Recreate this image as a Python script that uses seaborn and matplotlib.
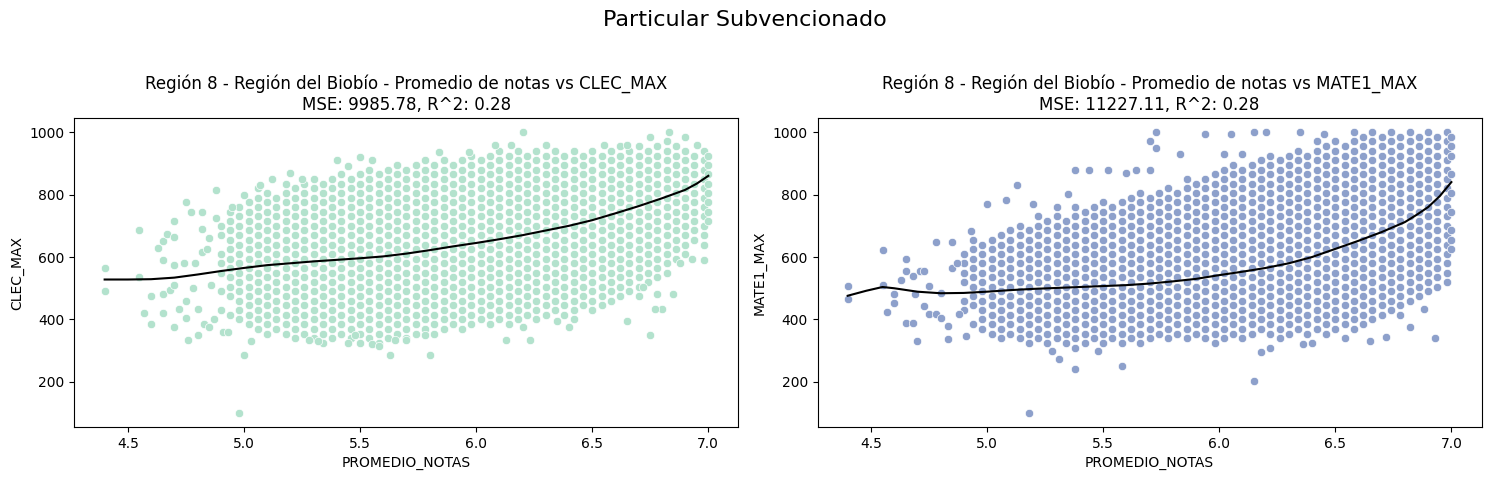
import numpy as np
import pandas as pd
import seaborn as sns
import matplotlib.pyplot as plt

# ---------------- data: CLEC_MAX panel ----------------
clec_cols_x = [4.90, 4.94, 4.98, 5.02, 5.06, 5.10, 5.14, 5.18, 5.22, 5.26, 5.30, 5.34, 5.38, 5.42,
               5.46, 5.50, 5.54, 5.58, 5.62, 5.66, 5.70, 5.74, 5.78, 5.82, 5.86, 5.90, 5.94, 5.98,
               6.02, 6.06, 6.10, 6.14, 6.18, 6.22, 6.26, 6.30, 6.34, 6.38, 6.42, 6.46, 6.50, 6.54,
               6.58, 6.62, 6.66, 6.70, 6.74, 6.78, 6.82, 6.86, 6.90, 6.94, 6.98, 7.00]
clec_cols_y = [
    [430, 490, 550, 580, 610, 670, 700],
    [415, 475, 505, 535, 565, 595, 625, 655, 685, 715, 745],
    [400, 430, 460, 490, 520, 550, 580, 610, 640, 670, 700, 730, 760],
    [385, 415, 445, 475, 505, 535, 565, 595, 625, 655, 685, 715, 745, 775],
    [370, 400, 430, 460, 490, 520, 550, 580, 610, 640, 670, 700, 730, 760, 790, 820],
    [355, 385, 415, 445, 475, 505, 535, 565, 595, 625, 655, 685, 715, 745, 775, 805],
    [370, 400, 430, 460, 490, 520, 550, 580, 610, 640, 670, 700, 730, 760, 790],
    [355, 385, 415, 445, 475, 505, 535, 565, 595, 625, 655, 685, 715, 745, 775, 805, 835],
    [340, 370, 400, 430, 460, 490, 520, 550, 580, 610, 640, 670, 700, 730, 760, 790, 820],
    [355, 385, 415, 445, 475, 505, 535, 565, 595, 625, 655, 685, 715, 745, 775, 805, 835],
    [340, 370, 400, 430, 460, 490, 520, 550, 580, 610, 640, 670, 700, 730, 760, 790, 820, 850],
    [325, 355, 385, 415, 445, 475, 505, 535, 565, 595, 625, 655, 685, 715, 745, 775, 805, 835],
    [340, 370, 400, 430, 460, 490, 520, 550, 580, 610, 640, 670, 700, 730, 760, 790, 820, 850],
    [355, 385, 415, 445, 475, 505, 535, 565, 595, 625, 655, 685, 715, 745, 775, 805, 835, 865],
    [340, 370, 400, 430, 460, 490, 520, 550, 580, 610, 640, 670, 700, 730, 760, 790, 820, 850],
    [325, 355, 385, 415, 445, 475, 505, 535, 565, 595, 625, 655, 685, 715, 745, 775, 805, 835, 865],
    [340, 370, 400, 430, 460, 490, 520, 550, 580, 610, 640, 670, 700, 730, 760, 790, 820, 850, 880],
    [325, 355, 385, 415, 445, 475, 505, 535, 565, 595, 625, 655, 685, 715, 745, 775, 805, 835, 865],
    [340, 370, 400, 430, 460, 490, 520, 550, 580, 610, 640, 670, 700, 730, 760, 790, 820, 850, 880],
    [355, 385, 415, 445, 475, 505, 535, 565, 595, 625, 655, 685, 715, 745, 775, 805, 835, 865, 895],
    [340, 370, 400, 430, 460, 490, 520, 550, 580, 610, 640, 670, 700, 730, 760, 790, 820, 850, 880],
    [355, 385, 415, 445, 475, 505, 535, 565, 595, 625, 655, 685, 715, 745, 775, 805, 835, 865, 895],
    [370, 400, 430, 460, 490, 520, 550, 580, 610, 640, 670, 700, 730, 760, 790, 820, 850, 880, 910],
    [355, 385, 415, 445, 475, 505, 535, 565, 595, 625, 655, 685, 715, 745, 775, 805, 835, 865, 895],
    [370, 400, 430, 460, 490, 520, 550, 580, 610, 640, 670, 700, 730, 760, 790, 820, 850, 880, 910],
    [385, 415, 445, 475, 505, 535, 565, 595, 625, 655, 685, 715, 745, 775, 805, 835, 865, 895],
    [370, 400, 430, 460, 490, 520, 550, 580, 610, 640, 670, 700, 730, 760, 790, 820, 850, 880, 910],
    [385, 415, 445, 475, 505, 535, 565, 595, 625, 655, 685, 715, 745, 775, 805, 835, 865, 895, 925],
    [400, 430, 460, 490, 520, 550, 580, 610, 640, 670, 700, 730, 760, 790, 820, 850, 880, 910],
    [385, 415, 445, 475, 505, 535, 565, 595, 625, 655, 685, 715, 745, 775, 805, 835, 865, 895, 925],
    [400, 430, 460, 490, 520, 550, 580, 610, 640, 670, 700, 730, 760, 790, 820, 850, 880, 910, 940],
    [385, 415, 445, 475, 505, 535, 565, 595, 625, 655, 685, 715, 745, 775, 805, 835, 865, 895, 925],
    [400, 430, 460, 490, 520, 550, 580, 610, 640, 670, 700, 730, 760, 790, 820, 850, 880, 910, 940],
    [415, 445, 475, 505, 535, 565, 595, 625, 655, 685, 715, 745, 775, 805, 835, 865, 895, 925],
    [400, 430, 460, 490, 520, 550, 580, 610, 640, 670, 700, 730, 760, 790, 820, 850, 880, 910, 940],
    [415, 445, 475, 505, 535, 565, 595, 625, 655, 685, 715, 745, 775, 805, 835, 865, 895, 925],
    [430, 460, 490, 520, 550, 580, 610, 640, 670, 700, 730, 760, 790, 820, 850, 880, 910, 940],
    [415, 445, 475, 505, 535, 565, 595, 625, 655, 685, 715, 745, 775, 805, 835, 865, 895, 925],
    [400, 430, 460, 490, 520, 550, 580, 610, 640, 670, 700, 730, 760, 790, 820, 850, 880, 910, 940],
    [445, 475, 505, 535, 565, 595, 625, 655, 685, 715, 745, 775, 805, 835, 865, 895, 925],
    [430, 460, 490, 520, 550, 580, 610, 640, 670, 700, 730, 760, 790, 820, 850, 880, 910, 940],
    [445, 475, 505, 535, 565, 595, 625, 655, 685, 715, 745, 775, 805, 835, 865, 895, 925],
    [460, 490, 520, 550, 580, 610, 640, 670, 700, 730, 760, 790, 820, 850, 880, 910, 940],
    [475, 505, 535, 565, 595, 625, 655, 685, 715, 745, 775, 805, 835, 865, 895, 925, 955],
    [490, 520, 550, 580, 610, 640, 670, 700, 730, 760, 790, 820, 850, 880, 910, 940],
    [475, 505, 535, 565, 595, 625, 655, 685, 715, 745, 775, 805, 835, 865, 895, 925, 955],
    [520, 550, 580, 610, 640, 670, 700, 730, 760, 790, 820, 850, 880, 910, 940],
    [535, 565, 595, 625, 655, 685, 715, 745, 775, 805, 835, 865, 895, 925, 955],
    [550, 580, 610, 640, 670, 700, 730, 760, 790, 820, 850, 880, 910, 940, 970],
    [595, 625, 655, 685, 715, 745, 775, 805, 835, 865, 895, 925, 955],
    [610, 640, 670, 700, 730, 760, 790, 820, 850, 880, 910, 940],
    [655, 685, 715, 745, 775, 805, 835, 865, 895, 925],
    [640, 670, 700, 730, 760, 790, 820, 850, 880, 910, 940],
    [715, 745, 775, 805, 835, 865, 895, 925],
]
clec_out_x = [4.40, 4.40, 4.55, 4.55, 4.57, 4.60, 4.60, 4.63, 4.65, 4.65, 4.65, 4.65, 4.67, 4.68,
              4.70, 4.70, 4.70, 4.70, 4.70, 4.72, 4.74, 4.75, 4.75, 4.75, 4.76, 4.77, 4.78, 4.79,
              4.80, 4.80, 4.82, 4.82, 4.82, 4.83, 4.84, 4.85, 4.85, 4.86, 4.87, 4.88, 4.88, 4.91,
              4.93, 4.95, 4.98, 5.00, 5.00, 5.03, 5.07, 5.12, 5.20, 5.25, 5.40, 5.45, 5.50, 5.55,
              5.28, 5.32, 5.45, 5.48, 5.55, 5.58, 5.63, 5.65, 5.70, 5.78, 5.80, 5.84, 5.97, 6.08,
              6.15, 6.20, 6.30, 6.55, 6.65, 6.75, 6.83, 6.90, 6.95, 6.13, 6.23, 6.20, 6.35, 6.40,
              6.65, 6.75, 6.72, 6.78, 6.80, 6.85, 6.88, 6.93, 6.98, 6.77]
clec_out_y = [565, 490, 685, 535, 420, 475, 385, 630, 650, 590, 480, 420, 675, 495,
              715, 665, 575, 510, 375, 435, 580, 775, 460, 405, 335, 745, 500, 580,
              350, 435, 745, 690, 615, 385, 625, 375, 660, 510, 400, 815, 725, 360,
              360, 760, 100, 285, 800, 330, 830, 850, 870, 850, 910, 890, 920, 910,
              335, 330, 325, 350, 320, 315, 285, 335, 335, 350, 285, 935, 935, 960,
              960, 1000, 960, 960, 960, 985, 1000, 985, 960, 335, 335, 375, 395, 375,
              395, 350, 505, 480, 435, 480, 580, 595, 590, 435]
clec_fit_x = [4.40, 4.50, 4.60, 4.70, 4.80, 4.90, 5.00, 5.10, 5.20, 5.30, 5.40, 5.50, 5.60, 5.70,
              5.80, 5.90, 6.00, 6.10, 6.20, 6.30, 6.40, 6.50, 6.60, 6.70, 6.80, 6.90, 6.95, 7.00]
clec_fit_y = [528, 528, 529, 534, 544, 555, 565, 574, 580, 586, 591, 596, 602, 611,
              622, 634, 645, 657, 670, 685, 700, 718, 740, 763, 788, 815, 835, 860]

# ---------------- data: MATE1_MAX panel ----------------
mate_cols_x = clec_cols_x
mate_cols_y = [
    [430, 460, 520, 550, 580, 610],
    [385, 445, 475, 505, 535, 565, 595, 625, 655],
    [370, 400, 430, 460, 490, 520, 550, 580, 610, 640],
    [355, 385, 415, 445, 475, 505, 535, 565, 595, 625, 655],
    [340, 370, 400, 430, 460, 490, 520, 550, 580, 610, 640, 670],
    [355, 385, 415, 445, 475, 505, 535, 565, 595, 625, 655, 685],
    [340, 370, 400, 430, 460, 490, 520, 550, 580, 610, 640, 670, 700],
    [325, 355, 385, 415, 445, 475, 505, 535, 565, 595, 625, 655, 685],
    [340, 370, 400, 430, 460, 490, 520, 550, 580, 610, 640, 670, 700, 730],
    [325, 355, 385, 415, 445, 475, 505, 535, 565, 595, 625, 655, 685, 715],
    [340, 370, 400, 430, 460, 490, 520, 550, 580, 610, 640, 670, 700, 730, 760],
    [325, 355, 385, 415, 445, 475, 505, 535, 565, 595, 625, 655, 685, 715],
    [310, 340, 370, 400, 430, 460, 490, 520, 550, 580, 610, 640, 670, 700, 730, 760],
    [325, 355, 385, 415, 445, 475, 505, 535, 565, 595, 625, 655, 685, 715, 745],
    [340, 370, 400, 430, 460, 490, 520, 550, 580, 610, 640, 670, 700, 730, 760],
    [325, 355, 385, 415, 445, 475, 505, 535, 565, 595, 625, 655, 685, 715, 745, 775],
    [340, 370, 400, 430, 460, 490, 520, 550, 580, 610, 640, 670, 700, 730, 760],
    [325, 355, 385, 415, 445, 475, 505, 535, 565, 595, 625, 655, 685, 715, 745, 775],
    [340, 370, 400, 430, 460, 490, 520, 550, 580, 610, 640, 670, 700, 730, 760, 790],
    [325, 355, 385, 415, 445, 475, 505, 535, 565, 595, 625, 655, 685, 715, 745, 775, 805],
    [340, 370, 400, 430, 460, 490, 520, 550, 580, 610, 640, 670, 700, 730, 760, 790],
    [355, 385, 415, 445, 475, 505, 535, 565, 595, 625, 655, 685, 715, 745, 775, 805],
    [340, 370, 400, 430, 460, 490, 520, 550, 580, 610, 640, 670, 700, 730, 760, 790, 820],
    [355, 385, 415, 445, 475, 505, 535, 565, 595, 625, 655, 685, 715, 745, 775, 805],
    [340, 370, 400, 430, 460, 490, 520, 550, 580, 610, 640, 670, 700, 730, 760, 790, 820, 850],
    [355, 385, 415, 445, 475, 505, 535, 565, 595, 625, 655, 685, 715, 745, 775, 805, 835],
    [340, 370, 400, 430, 460, 490, 520, 550, 580, 610, 640, 670, 700, 730, 760, 790, 820, 850],
    [325, 355, 385, 415, 445, 475, 505, 535, 565, 595, 625, 655, 685, 715, 745, 775, 805, 835, 865],
    [340, 370, 400, 430, 460, 490, 520, 550, 580, 610, 640, 670, 700, 730, 760, 790, 820, 850, 880],
    [355, 385, 415, 445, 475, 505, 535, 565, 595, 625, 655, 685, 715, 745, 775, 805, 835, 865, 895],
    [340, 370, 400, 430, 460, 490, 520, 550, 580, 610, 640, 670, 700, 730, 760, 790, 820, 850, 880],
    [355, 385, 415, 445, 475, 505, 535, 565, 595, 625, 655, 685, 715, 745, 775, 805, 835, 865, 895],
    [370, 400, 430, 460, 490, 520, 550, 580, 610, 640, 670, 700, 730, 760, 790, 820, 850, 880, 910],
    [355, 385, 415, 445, 475, 505, 535, 565, 595, 625, 655, 685, 715, 745, 775, 805, 835, 865, 895, 925],
    [340, 370, 400, 430, 460, 490, 520, 550, 580, 610, 640, 670, 700, 730, 760, 790, 820, 850, 880, 910],
    [355, 385, 415, 445, 475, 505, 535, 565, 595, 625, 655, 685, 715, 745, 775, 805, 835, 865, 895, 925],
    [370, 400, 430, 460, 490, 520, 550, 580, 610, 640, 670, 700, 730, 760, 790, 820, 850, 880, 910, 940],
    [355, 385, 415, 445, 475, 505, 535, 565, 595, 625, 655, 685, 715, 745, 775, 805, 835, 865, 895, 925],
    [370, 400, 430, 460, 490, 520, 550, 580, 610, 640, 670, 700, 730, 760, 790, 820, 850, 880, 910, 940, 970],
    [355, 385, 415, 445, 475, 505, 535, 565, 595, 625, 655, 685, 715, 745, 775, 805, 835, 865, 895, 925, 955],
    [370, 400, 430, 460, 490, 520, 550, 580, 610, 640, 670, 700, 730, 760, 790, 820, 850, 880, 910, 940, 970],
    [385, 415, 445, 475, 505, 535, 565, 595, 625, 655, 685, 715, 745, 775, 805, 835, 865, 895, 925, 955],
    [370, 400, 430, 460, 490, 520, 550, 580, 610, 640, 670, 700, 730, 760, 790, 820, 850, 880, 910, 940, 970, 1000],
    [385, 415, 445, 475, 505, 535, 565, 595, 625, 655, 685, 715, 745, 775, 805, 835, 865, 895, 925, 955, 985],
    [400, 430, 460, 490, 520, 550, 580, 610, 640, 670, 700, 730, 760, 790, 820, 850, 880, 910, 940, 970, 1000],
    [415, 445, 475, 505, 535, 565, 595, 625, 655, 685, 715, 745, 775, 805, 835, 865, 895, 925, 955, 985],
    [430, 460, 490, 520, 550, 580, 610, 640, 670, 700, 730, 760, 790, 820, 850, 880, 910, 940, 970, 1000],
    [445, 475, 505, 535, 565, 595, 625, 655, 685, 715, 745, 775, 805, 835, 865, 895, 925, 955, 985],
    [460, 490, 520, 550, 580, 610, 640, 670, 700, 730, 760, 790, 820, 850, 880, 910, 940, 970, 1000],
    [475, 505, 535, 565, 595, 625, 655, 685, 715, 745, 775, 805, 835, 865, 895, 925, 955, 985],
    [490, 520, 550, 580, 610, 640, 670, 700, 730, 760, 790, 820, 850, 880, 910, 940, 970, 1000],
    [505, 535, 565, 595, 625, 655, 685, 715, 745, 775, 805, 835, 865, 895, 925, 955, 985],
    [520, 550, 580, 610, 640, 670, 700, 730, 760, 790, 820, 850, 880, 910, 940, 970, 1000],
    [625, 655, 685, 745, 805, 865, 925, 955, 985],
]
mate_out_x = [4.40, 4.40, 4.55, 4.55, 4.57, 4.60, 4.60, 4.63, 4.65, 4.65, 4.65, 4.68, 4.68, 4.69,
              4.70, 4.71, 4.73, 4.73, 4.75, 4.75, 4.78, 4.78, 4.80, 4.80, 4.83, 4.83, 4.85, 4.85,
              4.87, 4.88, 4.91, 4.93, 5.00, 5.08, 5.13, 5.20, 5.18, 5.35, 5.31, 5.28, 5.38, 5.48,
              5.58, 5.38, 5.44, 5.52, 5.60, 5.64, 5.70, 5.70, 5.73, 5.73, 5.83, 5.94, 6.05, 6.15,
              6.15, 6.20, 6.18, 6.22, 6.35, 6.45, 6.10, 6.02, 6.36, 6.40, 6.54, 6.65, 6.72, 6.82,
              6.88, 6.93, 6.78]
mate_out_y = [507, 467, 622, 509, 425, 480, 454, 525, 595, 555, 389, 539, 389, 480,
              330, 555, 555, 443, 507, 416, 649, 416, 486, 405, 379, 336, 566, 649,
              582, 416, 347, 684, 770, 783, 831, 770, 100, 802, 272, 300, 240, 300,
              252, 880, 880, 880, 870, 880, 880, 973, 1000, 949, 930, 995, 995, 202,
              1000, 1000, 295, 310, 1000, 995, 930, 930, 320, 325, 340, 330, 345, 375,
              435, 340, 415]
mate_fit_x = [4.40, 4.48, 4.55, 4.60, 4.70, 4.80, 4.90, 5.00, 5.10, 5.20, 5.30, 5.40, 5.50, 5.60,
              5.70, 5.80, 5.90, 6.00, 6.10, 6.20, 6.30, 6.40, 6.50, 6.60, 6.70, 6.80, 6.85, 6.90,
              6.95, 7.00]
mate_fit_y = [476, 492, 504, 500, 489, 484, 485, 489, 494, 498, 501, 504, 507, 510,
              515, 522, 530, 542, 553, 565, 580, 600, 626, 652, 680, 712, 735, 760,
              795, 840]

clec_color = "#b3e2cd"
mate_color = "#8da0cb"


def build_frame(cols_x, cols_y, out_x, out_y, name):
    xs, ys = [], []
    for cx, cy in zip(cols_x, cols_y):
        xs.extend([cx] * len(cy))
        ys.extend(cy)
    xs.extend(out_x)
    ys.extend(out_y)
    return pd.DataFrame({"PROMEDIO_NOTAS": xs, name: ys})


clec_df = build_frame(clec_cols_x, clec_cols_y, clec_out_x, clec_out_y, "CLEC_MAX")
mate_df = build_frame(mate_cols_x, mate_cols_y, mate_out_x, mate_out_y, "MATE1_MAX")
clec_fit = pd.DataFrame({"PROMEDIO_NOTAS": clec_fit_x, "CLEC_MAX": clec_fit_y})
mate_fit = pd.DataFrame({"PROMEDIO_NOTAS": mate_fit_x, "MATE1_MAX": mate_fit_y})

fig, axes = plt.subplots(1, 2, figsize=(14.89, 4.8), dpi=100)

panels = [
    (axes[0], clec_df, clec_fit, "CLEC_MAX", clec_color,
     "Región 8 - Región del Biobío - Promedio de notas vs CLEC_MAX\nMSE: 9985.78, R^2: 0.28"),
    (axes[1], mate_df, mate_fit, "MATE1_MAX", mate_color,
     "Región 8 - Región del Biobío - Promedio de notas vs MATE1_MAX\nMSE: 11227.11, R^2: 0.28"),
]
for ax, df, fit, col, color, title in panels:
    sns.scatterplot(data=df, x="PROMEDIO_NOTAS", y=col, color=color, ax=ax)
    sns.lineplot(data=fit, x="PROMEDIO_NOTAS", y=col, color="black", ax=ax)
    ax.set_title(title, fontsize=12)
    ax.set_xlabel("PROMEDIO_NOTAS")
    ax.set_ylabel(col)

fig.suptitle("Particular Subvencionado", fontsize=16)
fig.subplots_adjust(left=0.050, right=0.995, bottom=0.110, top=0.754, wspace=0.119)
fig.savefig("out.png", dpi=100)
